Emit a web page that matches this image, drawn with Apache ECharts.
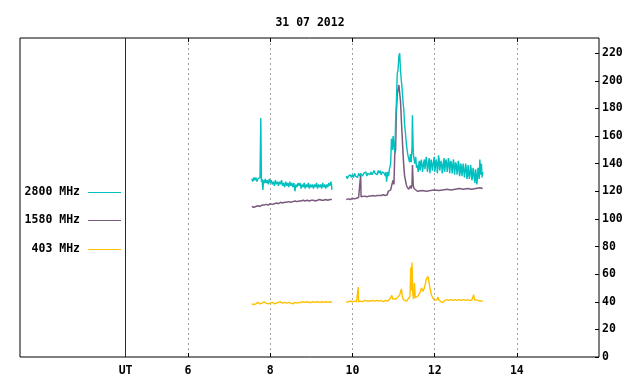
<!DOCTYPE html>
<html>
<head>
<meta charset="utf-8">
<script src="https://cdn.jsdelivr.net/npm/echarts@6/dist/echarts.min.js"></script>
<style>html,body{margin:0;padding:0;background:#fff;}#c{width:640px;height:384px;}</style>
</head>
<body>
<div id="c"></div>
<script>
const title = '31 07 2012';
const seriesNames = ['2800 MHz', '1580 MHz', '403 MHz'];
const seriesColors = ['#00c0c0', '#7a5a7e', '#ffc000'];
const xTicks = [6, 8, 10, 12, 14];
const utPos = 4.48;
const xMin = 1.91, xMax = 16;
const yMin = 0, yMax = 231, yStep = 20;

// [hour UT, flux]
const s2800 = [
 [7.550,129],[7.575,127],[7.600,130],[7.625,128],[7.650,130],[7.675,127],[7.700,129],[7.725,128],[7.750,130],[7.770,173],
 [7.785,127],[7.800,129],[7.820,121],[7.840,128],[7.860,126],[7.880,129],[7.900,126],[7.925,128],[7.950,125],[7.975,129],
 [8.000,126],[8.025,128],[8.050,125],[8.075,127],[8.100,124],[8.125,128],[8.150,125],[8.175,127],[8.200,124],[8.225,127],
 [8.250,125],[8.275,128],[8.300,124],[8.325,126],[8.350,123],[8.375,127],[8.400,124],[8.425,126],[8.450,123],[8.475,127],
 [8.500,124],[8.525,126],[8.550,123],[8.575,126],[8.600,120],[8.625,125],[8.650,123],[8.675,126],[8.700,124],[8.725,126],
 [8.750,122],[8.775,125],[8.800,123],[8.825,126],[8.850,122],[8.875,125],[8.900,123],[8.925,126],[8.950,122],[8.975,125],
 [9.000,123],[9.025,125],[9.050,122],[9.075,125],[9.100,123],[9.125,126],[9.150,122],[9.175,125],[9.200,123],[9.225,125],
 [9.250,122],[9.275,126],[9.300,123],[9.325,125],[9.350,122],[9.375,125],[9.400,123],[9.425,126],[9.450,124],[9.475,127],
 [9.490,125],[9.500,121],
 [9.68,null],
 [9.85,131],[9.875,129],[9.90,131],[9.925,130],[9.95,132],[9.975,130],[10.00,132],[10.025,130],[10.05,133],[10.075,131],
 [10.10,132],[10.125,130],[10.15,133],[10.175,131],[10.20,133],[10.225,132],[10.25,131],[10.275,133],[10.30,132],[10.325,134],
 [10.35,131],[10.375,133],[10.40,134],[10.425,132],[10.45,134],[10.475,132],[10.50,133],[10.525,135],[10.55,133],[10.575,134],
 [10.60,132],[10.625,135],[10.65,133],[10.675,135],[10.70,132],[10.725,134],[10.75,135],[10.775,133],[10.80,131],[10.815,134],
 [10.83,127],[10.86,134],[10.88,131],[10.90,136],[10.93,140],[10.95,158],[10.97,150],[10.99,160],[11.01,152],[11.03,148],[11.05,170],
 [11.07,185],[11.09,205],[11.11,208],[11.13,218],[11.15,220],[11.17,207],[11.19,200],[11.21,194],[11.23,185],[11.25,179],
 [11.27,168],[11.29,162],[11.31,155],[11.33,150],[11.35,146],[11.37,145],[11.39,141],[11.41,147],[11.43,141],[11.45,152],
 [11.46,175],[11.48,148],[11.50,143],[11.52,140],[11.54,145],[11.56,137],[11.58,139],
 [11.60,134],[11.615,140],[11.63,142],[11.645,135],[11.66,136],[11.675,143],[11.69,140],[11.705,134],[11.72,133],[11.735,141],
 [11.75,143],[11.765,136],[11.78,135],[11.795,145],[11.81,141],[11.825,134],[11.84,137],[11.855,142],[11.87,144],[11.885,133],
 [11.90,134],[11.915,143],[11.93,140],[11.945,135],[11.96,136],[11.975,142],[11.99,145],[12.005,134],[12.02,135],[12.035,143],
 [12.05,141],[12.065,133],[12.08,137],[12.095,146],[12.11,143],[12.125,135],[12.14,134],[12.155,142],[12.17,140],[12.185,133],
 [12.20,136],[12.215,141],[12.23,144],[12.245,134],[12.26,135],[12.275,143],[12.29,141],[12.305,134],[12.32,138],[12.335,144],
 [12.35,142],[12.365,133],[12.38,134],[12.395,142],[12.41,140],[12.425,133],[12.44,136],[12.455,143],[12.47,141],[12.485,132],
 [12.50,133],[12.515,141],[12.53,139],[12.545,132],[12.56,135],[12.575,142],[12.59,140],[12.605,131],[12.62,133],[12.635,140],
 [12.65,138],[12.665,131],[12.68,132],[12.695,140],[12.71,139],[12.725,130],[12.74,134],[12.755,140],[12.77,137],[12.785,129],
 [12.80,131],[12.815,139],[12.83,138],[12.845,129],[12.86,132],[12.875,139],[12.89,136],[12.905,128],[12.92,130],[12.935,137],
 [12.95,134],[12.965,129],[12.98,126],[12.995,136],[13.01,133],[13.025,125],[13.04,128],[13.055,137],[13.07,135],[13.085,129],
 [13.10,143],[13.12,132],[13.14,140],[13.155,130],[13.17,134]
];
const s1580 = [
 [7.55,109],[7.60,108.5],[7.65,109],[7.70,109.5],[7.75,109],[7.80,110],[7.85,110],[7.90,110.5],[7.95,110],[8.00,111],
 [8.05,110.5],[8.10,111],[8.15,111.5],[8.20,111],[8.25,112],[8.30,111.5],[8.35,112],[8.40,112],[8.45,112.5],[8.50,112],
 [8.55,112.5],[8.60,113],[8.65,112.5],[8.70,113],[8.75,113],[8.80,113.5],[8.85,113],[8.90,113.5],[8.95,113],[9.00,113.5],
 [9.05,113.5],[9.10,113],[9.15,113.5],[9.20,114],[9.25,113.5],[9.30,113.5],[9.35,114],[9.40,113.5],[9.45,114],[9.50,114],
 [9.68,null],
 [9.85,114],[9.90,114.5],[9.95,114],[10.00,115],[10.05,114.5],[10.10,115],[10.15,115.5],[10.19,115],[10.20,132],[10.21,116],
 [10.25,116],[10.30,116.5],[10.35,116],[10.40,116.5],[10.45,116.5],[10.50,117],[10.55,116.5],[10.60,117],[10.65,117],[10.70,117],
 [10.75,117.5],[10.80,117],[10.85,117.5],[10.87,120],[10.90,120.5],[10.93,121],[10.95,121],[10.97,126],[10.99,128],[11.01,125],
 [11.03,147],[11.05,150],[11.07,178],[11.09,190],[11.11,194],[11.13,197],[11.15,196],[11.17,185],[11.19,172],[11.21,160],
 [11.23,148],[11.25,138],[11.27,131],[11.29,128],[11.31,125],[11.33,123],[11.35,122],[11.37,121.5],[11.39,121],[11.41,124],
 [11.43,122],[11.45,125],[11.46,139],[11.48,124],[11.50,122],[11.54,121],[11.58,120],[11.62,120],[11.70,120.5],[11.80,120],
 [11.90,120.5],[12.00,121],[12.10,120.5],[12.20,121],[12.30,121.5],[12.40,121],[12.50,121.5],[12.60,122],[12.70,121.5],[12.80,122],
 [12.90,121.5],[13.00,122],[13.10,122.5],[13.17,122]
];
const s403 = [
 [7.55,38.5],[7.60,38],[7.65,38.5],[7.70,39.5],[7.75,38.5],[7.80,39],[7.85,40],[7.90,39],[7.95,38.5],[8.00,39],
 [8.05,39.5],[8.10,38.5],[8.15,39],[8.20,39.5],[8.25,40],[8.30,39],[8.35,39.5],[8.40,39],[8.45,39.5],[8.50,39],
 [8.55,38.5],[8.60,39.5],[8.65,39],[8.70,39.5],[8.75,39.5],[8.80,40],[8.85,39.5],[8.90,40],[8.95,39.5],[9.00,39.5],
 [9.05,40],[9.10,39.5],[9.15,40],[9.20,39.5],[9.25,40],[9.30,39.5],[9.35,40],[9.40,39.5],[9.45,40],[9.50,39.5],
 [9.68,null],
 [9.85,39.5],[9.90,40],[9.95,40.5],[10.00,40],[10.05,40.5],[10.10,40],[10.13,40],[10.14,50.7],[10.15,40],[10.20,40.5],
 [10.25,40],[10.30,41],[10.34,42],[10.36,40.5],[10.40,41],[10.45,40.5],[10.50,41],[10.55,40.5],[10.60,41],[10.65,40.5],
 [10.70,41],[10.75,40],[10.80,41],[10.85,40.5],[10.90,41.5],[10.94,41],[10.96,44.6],[10.98,42],[11.02,41.5],[11.06,42],
 [11.10,43],[11.15,45],[11.19,49.3],[11.21,44.4],[11.24,41.5],[11.28,40.3],[11.32,40.5],[11.36,41],[11.40,44],[11.42,65],
 [11.43,48],[11.45,68.5],[11.47,45],[11.49,42],[11.51,53.5],[11.53,43],[11.56,42.5],[11.59,44],[11.64,46.4],[11.68,50],
 [11.72,47.5],[11.76,51.2],[11.80,56.5],[11.84,58.4],[11.88,51],[11.92,45],[11.96,42.7],[12.00,41],[12.03,40.3],[12.06,41.5],
 [12.08,43.5],[12.10,41.5],[12.15,40],[12.20,39.5],[12.25,41],[12.30,41.5],[12.35,41],[12.40,41.5],[12.45,41],[12.50,41.5],
 [12.55,41],[12.60,41.5],[12.65,41],[12.70,41.5],[12.75,41],[12.80,41.5],[12.85,41],[12.90,41],[12.93,41.5],[12.95,45],
 [12.97,41.5],[13.05,41],[13.10,40.5],[13.17,40.5]
];
const seriesData = [s2800, s1580, s403];
const lineWidths = [1.4, 1.5, 1.4];

const FONT = 'DejaVu Sans Mono';
const chart = echarts.init(document.getElementById('c'), null, {renderer: 'canvas'});

const legendGraphics = [];
const legendY = [192, 220, 249];
seriesNames.forEach((n, i) => {
  legendGraphics.push({
    type: 'text', x: 80, y: legendY[i],
    style: {text: n, fill: '#000', font: 'bold 11.5px "' + FONT + '"', align: 'right', verticalAlign: 'middle'}
  });
  legendGraphics.push({
    type: 'line', shape: {x1: 88, y1: legendY[i] + 0.5, x2: 121, y2: legendY[i] + 0.5},
    style: {stroke: seriesColors[i], lineWidth: 1.2}
  });
});

const tickStyle = {show: true, inside: true, length: 4, lineStyle: {color: '#000', width: 1}, customValues: xTicks};

const option = {
  animation: false,
  backgroundColor: '#fff',
  title: {
    text: title, left: 305, textAlign: 'center', top: 12,
    textStyle: {fontFamily: FONT, fontSize: 11.5, fontWeight: 'bold', color: '#000'}
  },
  grid: {left: 20, right: 41, top: 38, bottom: 27, show: true, borderColor: '#000', borderWidth: 1, backgroundColor: 'transparent'},
  xAxis: [{
    type: 'value', min: xMin, max: xMax, position: 'bottom',
    axisLine: {show: false},
    axisTick: tickStyle,
    axisLabel: {
      customValues: [utPos].concat(xTicks), margin: 8,
      fontFamily: FONT, fontSize: 11.5, fontWeight: 'bold', color: '#000',
      formatter: v => (Math.abs(v - utPos) < 1e-6 ? 'UT' : String(v))
    },
    splitLine: {show: true, lineStyle: {color: '#a0a0a0', width: 1, type: [2, 3]}}
  }, {
    type: 'value', min: xMin, max: xMax, position: 'top',
    axisLine: {show: false}, axisTick: tickStyle, axisLabel: {show: false}, splitLine: {show: false}
  }],
  yAxis: {
    type: 'value', position: 'right', min: yMin, max: yMax, interval: yStep,
    axisLine: {show: false},
    axisTick: {show: true, inside: true, length: 4, lineStyle: {color: '#000'}},
    axisLabel: {showMaxLabel: false, margin: 3, fontFamily: FONT, fontSize: 11.5, fontWeight: 'bold', color: '#000'},
    splitLine: {show: false}
  },
  graphic: legendGraphics,
  series: seriesData.map((d, i) => ({
    name: seriesNames[i], type: 'line', data: d, showSymbol: false, connectNulls: false,
    lineStyle: {color: seriesColors[i], width: lineWidths[i]}, itemStyle: {color: seriesColors[i]},
    z: 3 - i,
    markLine: i === 0 ? {
      silent: true, symbol: 'none', label: {show: false},
      lineStyle: {color: '#900000', type: 'solid', width: 1},
      data: [{xAxis: utPos}]
    } : undefined
  }))
};
chart.setOption(option);
</script>
</body>
</html>
